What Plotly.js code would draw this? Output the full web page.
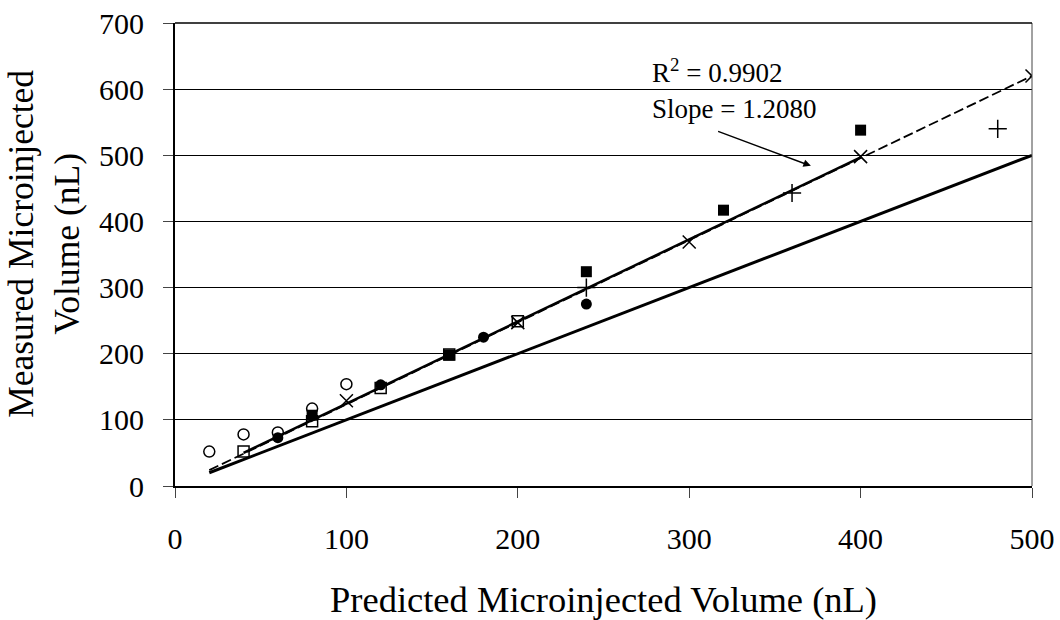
<!DOCTYPE html>
<html>
<head>
<meta charset="utf-8">
<script src="https://cdn.plot.ly/plotly-3.0.1.min.js"></script>
<style>html,body{margin:0;padding:0;background:#fff;}#chart{width:1060px;height:620px;}</style>
</head>
<body>
<div id="chart"></div>
<script>
// Data
const openCircleX = [20, 40, 60, 80, 100];
const openCircleY = [52, 78, 81, 117, 154];
const openSquareX = [40, 80, 120, 160, 200];
const openSquareY = [52, 98, 148, 199, 249];
const filledCircleX = [60, 120, 180, 240];
const filledCircleY = [73, 153, 225, 275];
const filledSquareX = [80, 160, 240, 320, 400];
const filledSquareY = [107, 198, 324, 417, 538];
const crossX = [100, 200, 300, 400, 500];
const crossY = [129, 247, 369, 498, 620];
const plusX = [240, 360, 480];
const plusY = [300, 443, 540];

// Lines
const identityX = [20, 500];
const identityY = [20, 500];
const fitSolidX = [40, 400];
const fitSolidY = [50, 497];
const fitDashX = [20, 500];
const fitDashY = [24, 620];

const xTicks = [0, 100, 200, 300, 400, 500];
const yTicks = [0, 100, 200, 300, 400, 500, 600, 700];

const FONT = '"Liberation Serif", "Times New Roman", serif';

function markerTrace(x, y, symbol, size, lw) {
  return {
    type: 'scatter', mode: 'markers', x: x, y: y, showlegend: false, hoverinfo: 'skip',
    marker: {symbol: symbol, size: size, color: '#000', line: {color: '#000', width: lw}}
  };
}

const traces = [
  {type: 'scatter', mode: 'lines', x: identityX, y: identityY, line: {color: '#000', width: 3}, showlegend: false},
  {type: 'scatter', mode: 'lines', x: fitDashX, y: fitDashY, line: {color: '#000', width: 1.8, dash: '10px,4px'}, showlegend: false},
  {type: 'scatter', mode: 'lines', x: fitSolidX, y: fitSolidY, line: {color: '#000', width: 2.5}, showlegend: false},
  markerTrace(openCircleX, openCircleY, 'circle-open', 11, 1.5),
  markerTrace(openSquareX, openSquareY, 'square-open', 11, 1.5),
  markerTrace(filledCircleX, filledCircleY, 'circle', 11, 0),
  markerTrace(filledSquareX, filledSquareY, 'square', 11, 0),
  markerTrace(crossX, crossY, 'x-thin-open', 13, 1.5),
  markerTrace(plusX, plusY, 'cross-thin-open', 13, 1.5)
];

const layout = {
  width: 1060, height: 620,
  margin: {l: 175, r: 28, t: 23, b: 134},
  paper_bgcolor: '#fff', plot_bgcolor: '#fff',
  font: {family: FONT, color: '#000', size: 30},
  xaxis: {
    range: [0, 500], tickvals: xTicks, ticktext: xTicks.map(String),
    showgrid: false, zeroline: false, showline: true, linecolor: '#000', linewidth: 2,
    ticks: 'outside', ticklen: 10, tickcolor: '#444', tickwidth: 1,
    ticklabelstandoff: 15,
    tickfont: {family: FONT, size: 30, color: '#000'},
    title: {text: 'Predicted Microinjected Volume (nL)', font: {family: FONT, size: 36.5, color: '#000'}, standoff: 33}
  },
  yaxis: {
    range: [0, 700], tickvals: yTicks, ticktext: yTicks.map(String),
    showgrid: true, gridcolor: '#000', gridwidth: 1,
    zeroline: false, showline: true, linecolor: '#000', linewidth: 2,
    ticks: 'outside', ticklen: 10, tickcolor: '#444', tickwidth: 1,
    ticklabelstandoff: 13,
    tickfont: {family: FONT, size: 30, color: '#000'}
  },
  shapes: [
    {type: 'line', xref: 'paper', yref: 'paper', x0: 1, x1: 1, y0: 0, y1: 1, line: {color: '#444', width: 1}},
    {type: 'line', xref: 'paper', yref: 'paper', x0: 0, x1: 1, y0: 1, y1: 1, line: {color: '#000', width: 1.5}}
  ],
  annotations: [
    {x: -0.153, y: 0.5227, xref: 'paper', yref: 'paper', xanchor: 'center', yanchor: 'middle', showarrow: false,
     textangle: -90, text: 'Measured Microinjected<br>Volume (nL)', font: {family: FONT, size: 35.5, color: '#000'}},
    {x: 277, y: 628, xref: 'x', yref: 'y', xanchor: 'left', yanchor: 'middle', showarrow: false,
     text: 'R<sup>2</sup> = 0.9902', font: {family: FONT, size: 27, color: '#000'}},
    {x: 277, y: 570, xref: 'x', yref: 'y', xanchor: 'left', yanchor: 'middle', showarrow: false,
     text: 'Slope = 1.2080', font: {family: FONT, size: 27, color: '#000'}},
    {x: 371, y: 484, ax: 316, ay: 537, xref: 'x', yref: 'y', axref: 'x', ayref: 'y',
     text: '', showarrow: true, arrowhead: 2, arrowsize: 1, arrowwidth: 1.5, arrowcolor: '#000', standoff: 0}
  ]
};

Plotly.newPlot('chart', traces, layout, {staticPlot: true, displayModeBar: false});
</script>
</body>
</html>
